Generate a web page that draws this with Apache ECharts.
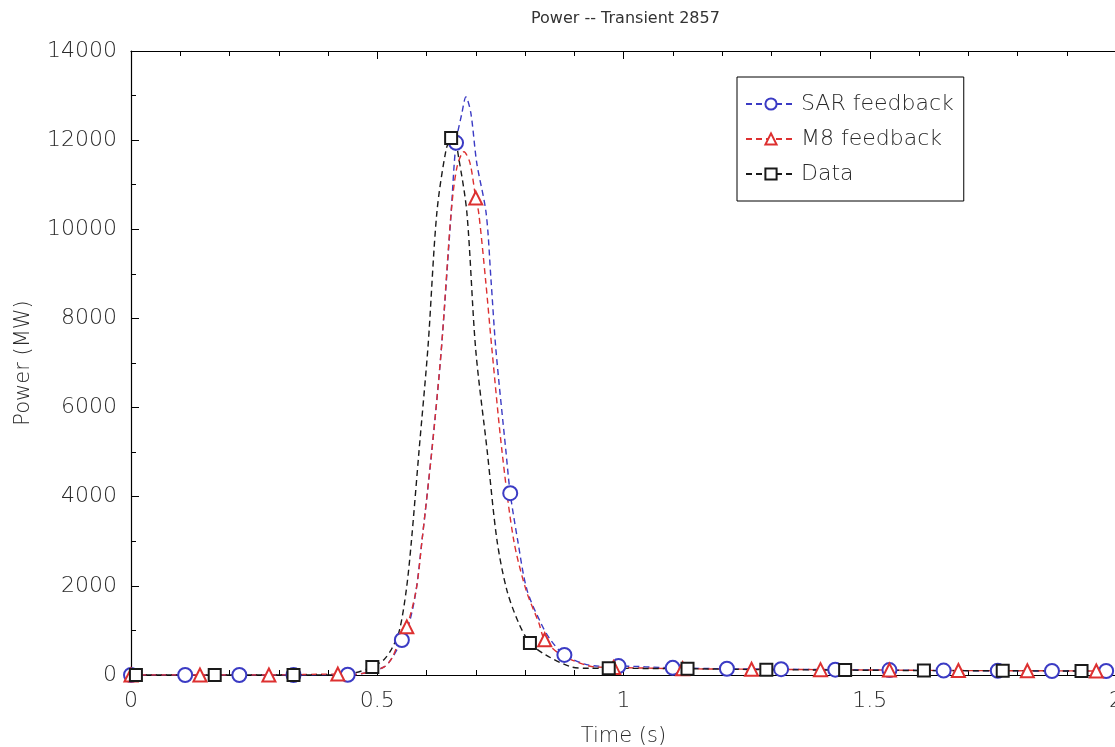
<!DOCTYPE html>
<html>
<head>
<meta charset="utf-8">
<script src="https://cdn.jsdelivr.net/npm/echarts@6/dist/echarts.min.js"></script>
<style>
html, body { margin: 0; padding: 0; background: #fff; }
#chart { width: 1115px; height: 747px; }
</style>
</head>
<body>
<div id="chart"></div>
<script>
// SAR feedback: traced dashed curve + marker points
const sarCurveT = [0.45, 0.48, 0.514, 0.53, 0.565, 0.579, 0.591, 0.611, 0.630, 0.650, 0.672, 0.680, 0.690, 0.702, 0.721, 0.731, 0.741, 0.761, 0.785, 0.804, 0.832, 0.852, 0.92, 0.95];
const sarCurveP = [5, 60, 180, 380, 1170, 1910, 3030, 5050, 7290, 10370, 12610, 12970, 12610, 11490, 10370, 8860, 7290, 5050, 3030, 1910, 1170, 785, 250, 200];
const sarMarkT = [0, 0.11, 0.22, 0.33, 0.44, 0.55, 0.66, 0.77, 0.88, 0.99, 1.10, 1.21, 1.32, 1.43, 1.54, 1.65, 1.76, 1.87, 1.98];
const sarMarkP = [0, 0, 0, 0, 5, 785, 11940, 4080, 450, 200, 160, 140, 130, 120, 110, 100, 95, 90, 90];

// M8 feedback
const m8CurveT = [0.45, 0.48, 0.514, 0.53, 0.545, 0.579, 0.591, 0.611, 0.630, 0.650, 0.662, 0.676, 0.688, 0.706, 0.720, 0.733, 0.753, 0.777, 0.802, 0.828, 0.874, 0.943];
const m8CurveP = [10, 60, 180, 380, 780, 1910, 3030, 5050, 7290, 10370, 11400, 11740, 11500, 10370, 8860, 7290, 5050, 3030, 1910, 1170, 450, 180];
const m8MarkT = [0, 0.14, 0.28, 0.42, 0.56, 0.70, 0.84, 0.98, 1.12, 1.26, 1.40, 1.54, 1.68, 1.82, 1.96];
const m8MarkP = [0, 0, 0, 20, 1080, 10700, 790, 170, 140, 130, 120, 110, 100, 95, 90];

// Data
const dataCurveT = [0.40, 0.45, 0.514, 0.530, 0.545, 0.559, 0.569, 0.585, 0.603, 0.621, 0.640, 0.655, 0.666, 0.682, 0.700, 0.723, 0.743, 0.763, 0.787, 0.842, 0.895, 0.93];
const dataCurveP = [0, 40, 350, 600, 1000, 1910, 2960, 5050, 7360, 10370, 11800, 12100, 11560, 10370, 7290, 5050, 3030, 1910, 1170, 450, 180, 150];
const dataMarkT = [0.01, 0.17, 0.33, 0.49, 0.65, 0.81, 0.97, 1.13, 1.29, 1.45, 1.61, 1.77, 1.93];
const dataMarkP = [0, 0, 0, 180, 12050, 720, 150, 140, 120, 110, 100, 95, 90];

const font = 'DejaVu Sans';

const buildData = (curveT, curveP, markT, markP) => {
    const pts = curveT.map((t, i) => ({ value: [t, curveP[i]], symbol: 'none' }));
    markT.forEach((t, i) => pts.push({ value: [t, markP[i]] }));
    return pts.sort((a, b) => a.value[0] - b.value[0]);
};

const makeSeries = (name, color, symbol, size, data) => ({
    name: name,
    type: 'line',
    data: data,
    smooth: 0.3,
    symbol: symbol,
    symbolSize: size,
    showSymbol: true,
    lineStyle: { color: color, width: 1.4, type: [6, 4] },
    itemStyle: { color: color, borderColor: color, borderWidth: 1.3 },
    emphasis: { disabled: true },
    z: 3
});

const axisLine = { show: true, lineStyle: { color: '#000', width: 1.2 } };
const axisTick = { show: true, inside: true, length: 8, lineStyle: { color: '#000' } };
const minorTick = { show: true, length: 5, lineStyle: { color: '#000' } };
const labelStyle = { color: '#2a2a2a', fontSize: 22, fontFamily: font, fontWeight: 200 };
const nameStyle = { color: '#2a2a2a', fontSize: 21, fontFamily: font, fontWeight: 200 };

const option = {
    animation: false,
    backgroundColor: '#fff',
    title: {
        text: 'Power -- Transient 2857',
        left: 526,
        top: 6,
        textStyle: { color: '#333', fontSize: 16, fontWeight: 'normal', fontFamily: font }
    },
    grid: { left: 131, right: -1, top: 51, bottom: 72, outerBoundsMode: 'none' },
    legend: {
        orient: 'vertical',
        left: 737,
        top: 77,
        backgroundColor: '#fff',
        borderColor: '#000',
        borderWidth: 1,
        borderRadius: 0,
        padding: [16, 10, 16, 8],
        itemGap: 13,
        itemWidth: 50,
        itemHeight: 14,
        textStyle: { color: '#2a2a2a', fontSize: 22, fontFamily: font, fontWeight: 200 },
        data: ['SAR feedback', 'M8 feedback', 'Data']
    },
    xAxis: [
        {
            type: 'value',
            min: 0,
            max: 2,
            interval: 0.5,
            name: 'Time (s)',
            nameLocation: 'middle',
            nameGap: 51,
            nameTextStyle: nameStyle,
            axisLine: axisLine,
            axisTick: axisTick,
            minorTick: Object.assign({ splitNumber: 5 }, minorTick),
            axisLabel: Object.assign({ margin: 15 }, labelStyle),
            splitLine: { show: false }
        },
        {
            type: 'value',
            position: 'top',
            min: 0,
            max: 2,
            interval: 0.5,
            axisLine: axisLine,
            axisTick: axisTick,
            minorTick: Object.assign({ splitNumber: 5 }, minorTick),
            axisLabel: { show: false },
            splitLine: { show: false }
        }
    ],
    yAxis: {
        type: 'value',
        min: 0,
        max: 14000,
        interval: 2000,
        name: 'Power (MW)',
        nameLocation: 'middle',
        nameGap: 97,
        nameTextStyle: nameStyle,
        axisLine: axisLine,
        axisTick: axisTick,
        minorTick: Object.assign({ splitNumber: 2 }, minorTick),
        axisLabel: Object.assign({ margin: 14, formatter: (v) => String(v) }, labelStyle),
        splitLine: { show: false }
    },
    series: [
        makeSeries('SAR feedback', '#3b3bc4', 'emptyCircle', 14, buildData(sarCurveT, sarCurveP, sarMarkT, sarMarkP)),
        makeSeries('M8 feedback', '#dd3030', 'emptyTriangle', 13, buildData(m8CurveT, m8CurveP, m8MarkT, m8MarkP)),
        makeSeries('Data', '#1a1a1a', 'emptyRect', 12, buildData(dataCurveT, dataCurveP, dataMarkT, dataMarkP))
    ]
};

const chart = echarts.init(document.getElementById('chart'));
chart.setOption(option);
</script>
</body>
</html>
